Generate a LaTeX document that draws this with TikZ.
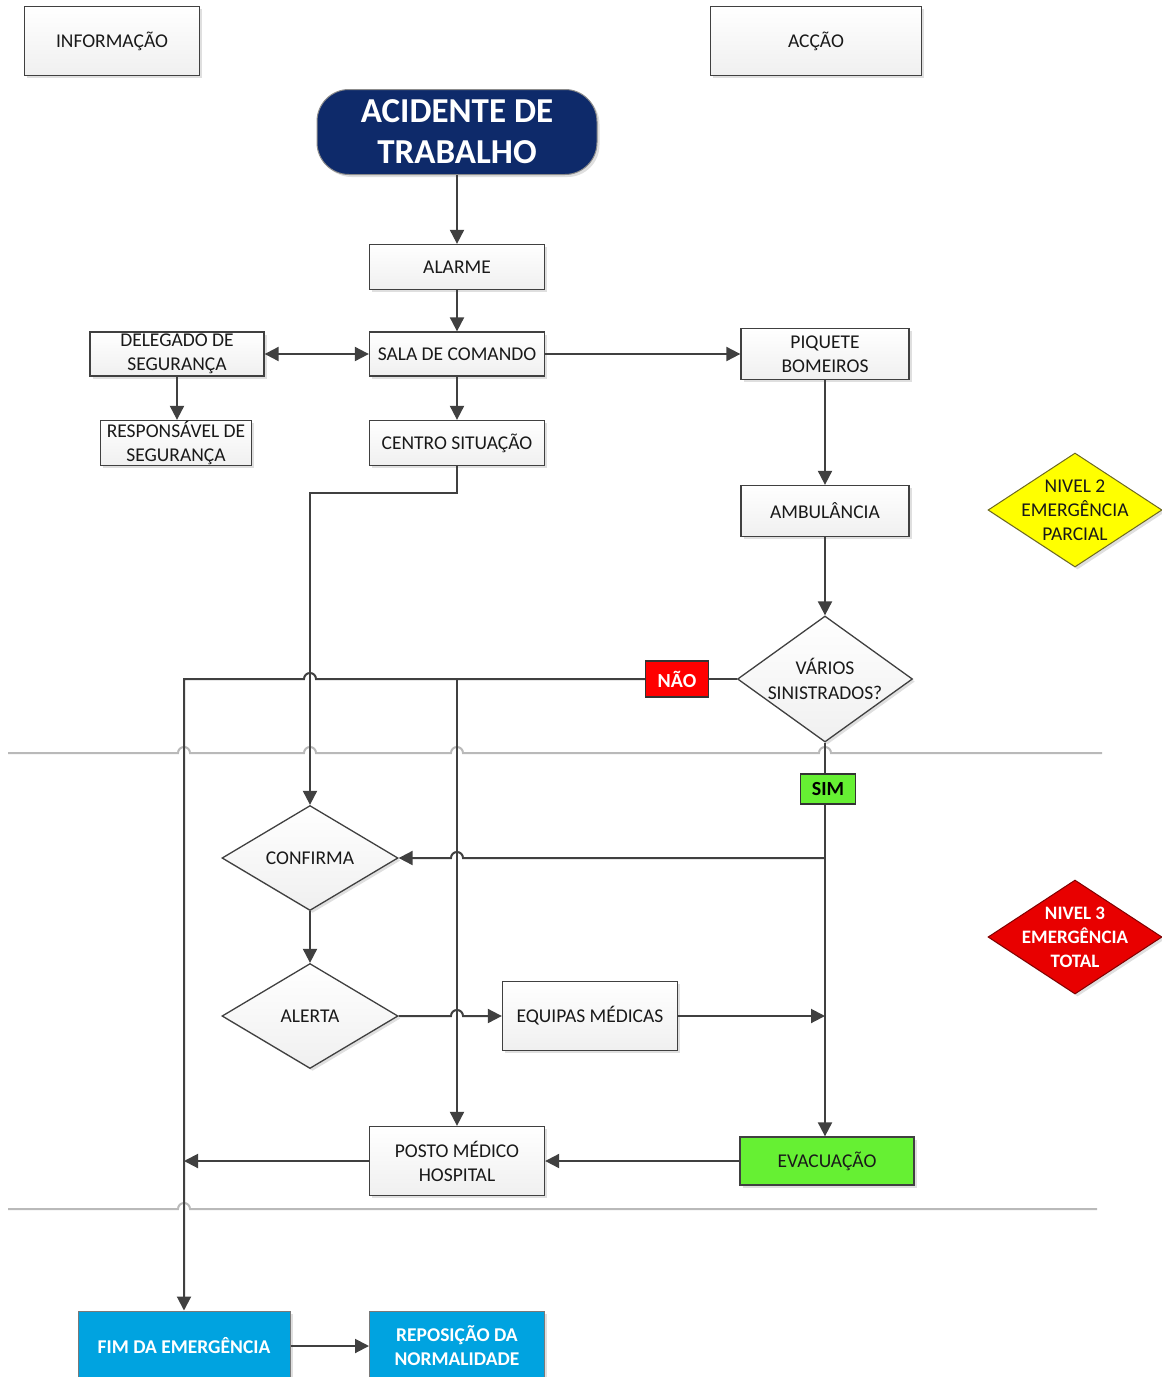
\documentclass[tikz,border=0pt]{standalone}
\usepackage{fontspec}
\setmainfont{Carlito}
\usetikzlibrary{shapes.geometric,arrows.meta,shadows}
\definecolor{ln}{HTML}{404040}
\definecolor{navy}{HTML}{0E2A6A}
\definecolor{skyb}{HTML}{00A3E0}
\definecolor{lime}{HTML}{66F033}
\definecolor{alarmred}{HTML}{E80000}
\definecolor{signyellow}{HTML}{FFFF00}
\begin{document}
\begin{tikzpicture}[x=1pt,y=1pt,
  shad/.style={drop shadow={shadow xshift=2.5pt,shadow yshift=-2.5pt,opacity=0.25}},
  box/.style={shad,draw=ln,line width=1.3pt,top color=white,bottom color=gray!12,
    font=\fontsize{19.5}{24}\selectfont,text=black!90,align=center,inner sep=0pt,
    minimum width=175pt,minimum height=45pt},
  diam/.style={shad,diamond,draw=ln,line width=1.3pt,top color=white,bottom color=gray!12,
    inner sep=0pt,minimum width=176pt,minimum height=105pt},
  lbl/.style={font=\fontsize{19.5}{25}\selectfont,text=black!90,align=center,inner sep=0pt},
  tag/.style={draw=black!80,line width=1.2pt,font=\bfseries\fontsize{20}{22}\selectfont,
    inner sep=0pt,align=center},
  bluebox/.style={shad,draw=ln!70,line width=1pt,fill=skyb,text=white,
    font=\bfseries\fontsize{19.5}{24}\selectfont,align=center,inner sep=0pt,
    minimum height=70pt},
  line/.style={draw=ln,line width=2pt},
  conn/.style={line,-{Triangle[length=14pt,width=14pt]}},
  dconn/.style={line,{Triangle[length=14pt,width=14pt]}-{Triangle[length=14pt,width=14pt]}},
  sep/.style={draw=gray!55,line width=2pt}]
\useasboundingbox (0,0) rectangle (1162,-1377);

% column headers
\node[box,minimum width=175pt,minimum height=69pt] (info) at (112,-41) {INFORMAÇÃO};
\node[box,minimum width=211pt,minimum height=69pt] (accao) at (816,-41) {ACÇÃO};

% start
\node[shad,draw=ln!60,line width=1pt,fill=navy,rounded corners=32pt,text=white,
  font=\bfseries\fontsize{35}{41}\selectfont,align=center,inner sep=0pt,
  minimum width=280pt,minimum height=85pt] (acid) at (457,-132) {ACIDENTE DE\\TRABALHO};

% information / command chain
\node[box] (alarme) at (457,-267) {ALARME};
\node[box,minimum height=44pt] (sala) at (457,-354) {SALA DE COMANDO};
\node[box,minimum width=174pt,minimum height=44pt] (deleg) at (177,-354) {DELEGADO DE\\SEGURANÇA};
\node[box,minimum width=151pt] (resp) at (176,-443) {RESPONSÁVEL DE\\SEGURANÇA};
\node[box] (centro) at (457,-443) {CENTRO SITUAÇÃO};

% action chain
\node[box,minimum width=168pt,minimum height=51pt] (piq) at (825,-354) {PIQUETE\\BOMEIROS};
\node[box,minimum width=168pt,minimum height=51pt] (amb) at (825,-511) {AMBULÂNCIA};
\node[diam,minimum width=175pt,minimum height=126pt,
  label={[lbl]center:VÁRIOS\\SINISTRADOS?}] (varios) at (825,-679) {};
\node[tag,fill=red,text=white,minimum width=63pt,minimum height=36pt] (nao) at (677,-679) {NÃO};
\node[tag,fill=lime,text=black,minimum width=55pt,minimum height=30pt] (sim) at (828,-789) {SIM};

% total emergency branch
\node[diam,label={[lbl]center:CONFIRMA}] (confirma) at (310,-858) {};
\node[diam,label={[lbl]center:ALERTA}] (alerta) at (310,-1016) {};
\node[box,minimum height=69pt] (equip) at (590,-1016) {EQUIPAS MÉDICAS};
\node[box,minimum height=69pt] (posto) at (457,-1161) {POSTO MÉDICO\\HOSPITAL};
\node[box,draw=ln,top color=lime,bottom color=lime,minimum width=174pt,minimum height=48pt]
  (evac) at (827,-1161) {EVACUAÇÃO};

% end
\node[bluebox,minimum width=212pt] (fim) at (184,-1346) {FIM DA EMERGÊNCIA};
\node[bluebox,minimum width=175pt] (repos) at (457,-1346) {REPOSIÇÃO DA\\NORMALIDADE};

% emergency levels
\node[shad,diamond,draw=olive!70!black,line width=1pt,fill=signyellow,inner sep=0pt,
  minimum width=174pt,minimum height=114pt,
  label={[font=\fontsize{19.5}{24}\selectfont,text=black!90,align=center,inner sep=0pt]center:NIVEL 2\\EMERGÊNCIA\\PARCIAL}]
  (n2) at (1075,-510) {};
\node[shad,diamond,draw=red!50!black,line width=1pt,fill=alarmred,inner sep=0pt,
  minimum width=174pt,minimum height=114pt,
  label={[font=\bfseries\fontsize{19}{24}\selectfont,text=white,align=center,inner sep=0pt]center:NIVEL 3\\EMERGÊNCIA\\TOTAL}]
  (n3) at (1075,-937) {};

% level separators (hopping over the vertical flow lines)
\draw[sep] (8,-753) -- (178,-753) arc[start angle=180,end angle=0,radius=6]
  -- (304,-753) arc[start angle=180,end angle=0,radius=6]
  -- (451,-753) arc[start angle=180,end angle=0,radius=6]
  -- (819,-753) arc[start angle=180,end angle=0,radius=6] -- (1102,-753);
\draw[sep] (8,-1209) -- (178,-1209) arc[start angle=180,end angle=0,radius=6] -- (1097,-1209);

% connectors
\draw[conn] (acid.south) -- (alarme.north);
\draw[conn] (alarme.south) -- (sala.north);
\draw[dconn] (deleg.east) -- (sala.west);
\draw[conn] (deleg.south) -- (deleg.south |- resp.north);
\draw[conn] (sala.south) -- (centro.north);
\draw[conn] (sala.east) -- (piq.west);
\draw[conn] (piq.south) -- (amb.north);
\draw[conn] (amb.south) -- (varios.north);
\draw[conn] (centro.south) -- ++(0,-27) -| (confirma.north);

% NÃO branch
\draw[line] (varios.west) -- (nao.east);
\draw[conn] (nao.west) -- (316,-679) arc[start angle=0,end angle=180,radius=6]
  -- (fim.north |- nao.west) -- (fim.north);
\draw[conn] (posto.north |- nao.west) -- (posto.north);

% SIM branch
\draw[line] (varios.south) -- (varios.south |- sim.north);
\draw[conn] (varios.south |- sim.south) -- (varios.south |- evac.north);
\coordinate (s1) at (varios.south |- confirma.east);
\draw[conn] (s1) -- (463,-858) arc[start angle=0,end angle=180,radius=6] -- (confirma.east);
\draw[conn] (confirma.south) -- (alerta.north);
\draw[conn] (alerta.east) -- (451,-1016) arc[start angle=180,end angle=0,radius=6] -- (equip.west);
\draw[conn] (equip.east) -- (equip.east -| varios.south);
\draw[conn] (evac.west) -- (posto.east);
\draw[conn] (posto.west) -- (posto.west -| fim.north);
\draw[conn] (fim.east) -- (repos.west);
\end{tikzpicture}
\end{document}
